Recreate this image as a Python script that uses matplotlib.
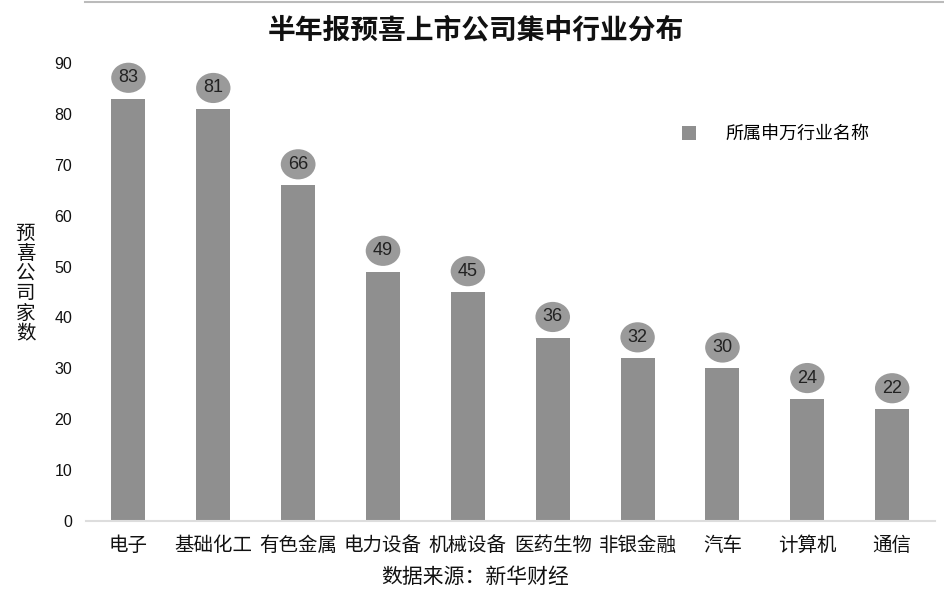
"""Half-year preview: industry distribution of companies with positive guidance."""

import matplotlib

matplotlib.use("Agg")
import matplotlib.pyplot as plt

plt.rcParams["font.family"] = ["Noto Sans CJK SC", "DejaVu Sans"]

industries = ["电子", "基础化工", "有色金属", "电力设备", "机械设备", "医药生物", "非银金融", "汽车", "计算机", "通信"]
counts = [83, 81, 66, 49, 45, 36, 32, 30, 24, 22]
y_ticks = [0, 10, 20, 30, 40, 50, 60, 70, 80, 90]

fig = plt.figure(figsize=(9.45, 5.91), dpi=100)
ax = fig.add_axes([0.091, 0.1184, 0.898, 0.775])

x = range(len(industries))
ax.bar(x, counts, width=0.4, color="#8f8f8f", label="所属申万行业名称", zorder=2)
for i, v in zip(x, counts):
    ax.annotate(str(v), (i, v), xytext=(0, 15), textcoords="offset points",
                ha="center", va="center", fontsize=13, color="#222222",
                family=["Liberation Sans", "DejaVu Sans"],
                bbox=dict(boxstyle="ellipse,pad=0.12", fc="#9a9a9a", ec="none"))

ax.set_xlim(-0.5, len(industries) - 0.5)
ax.set_ylim(0, 90)
ax.set_yticks(y_ticks)
ax.set_yticklabels([str(t) for t in y_ticks], fontsize=11.5, family=["Liberation Sans", "DejaVu Sans"])
ax.set_xticks(list(x))
ax.set_xticklabels(industries, fontsize=14, fontweight="medium")
ax.tick_params(axis="both", length=0, pad=10, colors="#111111")
for side in ("top", "right", "left"):
    ax.spines[side].set_visible(False)
ax.spines["bottom"].set_color("#dddddd")
ax.spines["bottom"].set_linewidth(1.5)

fig.text(0.027, 0.52, "预\n喜\n公\n司\n家\n数", ha="center", va="center",
         fontsize=14, linespacing=0.95, color="#111111")
fig.text(0.503, 0.948, "半年报预喜上市公司集中行业分布", ha="center", va="center",
         fontsize=20, fontweight="bold", color="#111111")
fig.text(0.503, 0.024, "数据来源：新华财经", ha="center", va="center",
         fontsize=15, color="#111111")

ax.legend(loc="center left", bbox_to_anchor=(0.683, 0.845), frameon=False,
          fontsize=13, handlelength=0.8, handleheight=0.8, handletextpad=1.6)

# thin grey strip along the top edge, as in the screenshot
fig.add_artist(plt.Line2D([0.09, 1.0], [0.997, 0.997], color="#bbbbbb", lw=1.5))

fig.savefig("out.png", dpi=100)
